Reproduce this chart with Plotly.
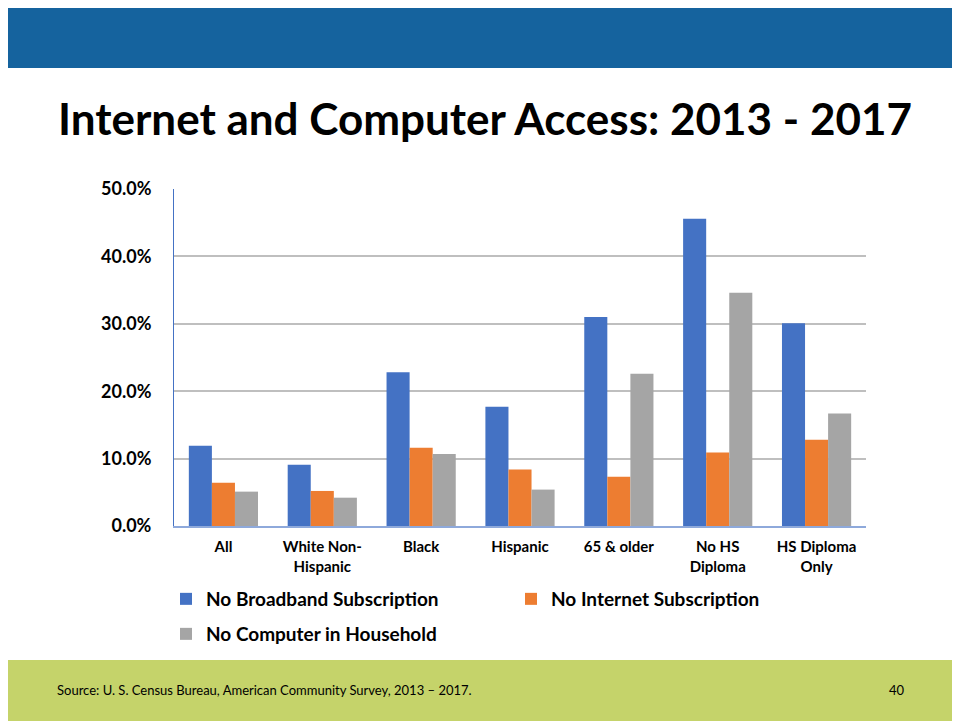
import plotly.graph_objects as go

# Categories and values (percent)
categories = ['All', 'White Non-<br>Hispanic', 'Black', 'Hispanic', '65 & older',
              'No HS<br>Diploma', 'HS Diploma<br>Only']
no_broadband = [11.9, 9.1, 22.8, 17.7, 31.0, 45.6, 30.1]
no_internet = [6.4, 5.2, 11.6, 8.4, 7.3, 10.9, 12.8]
no_computer = [5.1, 4.2, 10.7, 5.4, 22.6, 34.6, 16.7]

y_ticks = [0, 10, 20, 30, 40, 50]
y_tick_labels = ['0.0%', '10.0%', '20.0%', '30.0%', '40.0%', '50.0%']

FONT = 'Lato, Calibri, sans-serif'

# figure geometry (page body adds an 8px margin)
W, H = 952, 713
L, R, T, B = 166, 94, 181, 195
PW, PH = W - L - R, H - T - B


def px_x(px):
    return (px - L) / PW


def px_y(py):
    return (H - B - py) / PH


fig = go.Figure()

series = [
    ('No Broadband Subscription', no_broadband, '#4472C4', 'legend'),
    ('No Internet Subscription', no_internet, '#ED7D31', 'legend'),
    ('No Computer in Household', no_computer, '#A5A5A5', 'legend2'),
]
for name, vals, color, leg in series:
    fig.add_trace(go.Bar(
        x=categories,
        y=vals,
        name=name,
        legend=leg,
        marker=dict(color=color, line=dict(width=0)),
    ))

# slide decoration: header band and footer band
shapes = [
    dict(type='rect', xref='paper', yref='paper',
         x0=px_x(0), x1=px_x(W), y0=px_y(60), y1=px_y(0),
         fillcolor='#15639E', line=dict(width=0), layer='above'),
    dict(type='rect', xref='paper', yref='paper',
         x0=px_x(0), x1=px_x(W), y0=px_y(H), y1=px_y(652),
         fillcolor='#C5D36A', line=dict(width=0), layer='above'),
]

legend_font = dict(family=FONT, size=19, color='#000000', weight='bold')

fig.update_layout(
    width=W,
    height=H,
    margin=dict(l=L, r=R, t=T, b=B),
    paper_bgcolor='white',
    plot_bgcolor='white',
    font=dict(family=FONT, color='#000000'),
    shapes=shapes,
    barmode='group',
    bargap=0.30,
    bargroupgap=0,
    showlegend=True,
    legend=dict(
        orientation='h',
        x=px_x(158), xanchor='left',
        y=px_y(572), yanchor='top',
        entrywidth=300,
        font=legend_font,
        traceorder='normal',
        bgcolor='rgba(0,0,0,0)',
    ),
    legend2=dict(
        orientation='h',
        x=px_x(158), xanchor='left',
        y=px_y(607), yanchor='top',
        font=legend_font,
        bgcolor='rgba(0,0,0,0)',
    ),
    xaxis=dict(
        showgrid=False,
        showline=True,
        linecolor='#8EA9DB',
        linewidth=2,
        ticks='',
        ticklabelstandoff=6,
        tickfont=dict(family=FONT, size=15, color='#000000', weight='bold'),
        fixedrange=True,
    ),
    yaxis=dict(
        range=[0, 50],
        tickvals=y_ticks,
        ticktext=y_tick_labels,
        showgrid=True,
        gridcolor='#BFBFBF',
        gridwidth=1.5,
        showline=True,
        linecolor='#4472C4',
        linewidth=1,
        zeroline=False,
        ticks='',
        ticklabelstandoff=18,
        tickfont=dict(family=FONT, size=18, color='#000000', weight='bold'),
        fixedrange=True,
    ),
    annotations=[
        dict(text='<b>Internet and Computer Access: 2013 - 2017</b>',
             xref='paper', yref='paper', x=px_x(48), y=px_y(110),
             xanchor='left', yanchor='middle', showarrow=False,
             font=dict(family=FONT, size=44, color='#000000')),
        dict(text='Source: U. S. Census Bureau, American Community Survey, 2013 \u2013 2017.',
             xref='paper', yref='paper', x=px_x(47), y=px_y(682),
             xanchor='left', yanchor='middle', showarrow=False,
             font=dict(family=FONT, size=13, color='#000000')),
        dict(text='40',
             xref='paper', yref='paper', x=px_x(899), y=px_y(682),
             xanchor='right', yanchor='middle', showarrow=False,
             font=dict(family=FONT, size=13, color='#000000')),
    ],
)

fig.write_html('out.html')
